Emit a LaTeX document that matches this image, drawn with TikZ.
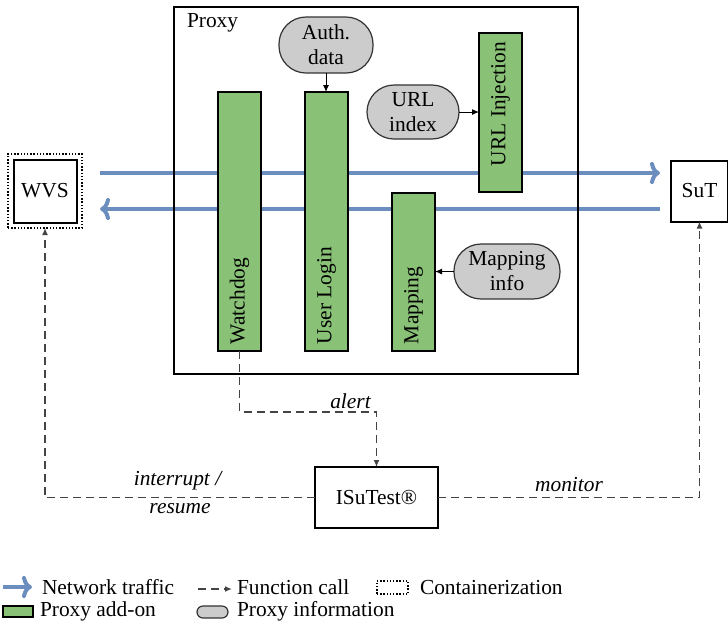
\documentclass[tikz,border=0pt]{standalone}
\usepackage{fontspec}
\setmainfont{Liberation Serif}
\usetikzlibrary{arrows.meta,calc,backgrounds}
\definecolor{netblue}{HTML}{6C8EBF}
\definecolor{addgreen}{HTML}{89C276}
\definecolor{infogray}{HTML}{CCCCCC}
\definecolor{fcgray}{HTML}{444444}
\newcommand{\dfont}{\fontsize{10.7}{12.5}\selectfont}
\begin{document}
\begin{tikzpicture}[x=0.5pt,y=-0.5pt,
  every node/.style={font=\dfont, inner sep=0pt, outer sep=0pt},
  box/.style={draw=black, line width=1pt, fill=white},
  addon/.style={draw=black, line width=1pt, fill=addgreen, minimum width=21.5pt},
  info/.style={draw=black!80, line width=0.6pt, fill=infogray, rounded corners=13.5pt, align=center},
  bartext/.style={rotate=90, anchor=west},
  net/.style={draw=netblue, line width=2pt, -{To[length=5pt,width=11pt]}},
  fcall/.style={draw=fcgray, line width=0.7pt, dash pattern=on 4pt off 2.5pt, -{Latex[length=3.5pt,width=3pt]}},
  small/.style={draw=black, line width=0.5pt, -{Latex[length=3.5pt,width=3pt]}},
  lbl/.style={font=\dfont\itshape},
  container/.style={draw=black, dash pattern=on 0.7pt off 0.9pt, line width=0.8pt},
]
\useasboundingbox (0,0) rectangle (728,623);

% proxy
\node[draw, line width=1pt, minimum width=202pt, minimum height=183.5pt] (proxy) at (376,190.5) {};
\node[anchor=west] (proxyl) at (187,23) {Proxy};

% add-ons
\node[addon, minimum height=129.5pt] (wd) at (239.5,221.5) {};
\node[addon, minimum height=129.5pt] (ul) at (326.5,221.5) {};
\node[addon, minimum height=79pt] (map) at (413.5,272) {};
\node[addon, minimum height=79.5pt] (uri) at (500.5,112.5) {};
\node[bartext] (wdt) at (239.5,344) {Watchdog};
\node[bartext] (ult) at (326.5,344) {User Login};
\node[bartext] (mapt) at (413.5,344) {Mapping};
\node[bartext] (urit) at (500.5,166) {URL Injection};

% information
\node[info, minimum width=47pt, minimum height=28pt] (auth) at (326,45) {Auth.\\data};
\node[info, minimum width=46pt, minimum height=27pt] (urlidx) at (413,112) {URL\\index};
\node[info, minimum width=53pt, minimum height=27.5pt] (mapinfo) at (507,271.5) {Mapping\\info};
\draw[small] (auth.south) -- (auth.south |- ul.north);
\draw[small] (urlidx.east) -- (urlidx.east -| uri.west);
\draw[small] (mapinfo.west) -- (mapinfo.west -| map.east);

% endpoints
\node[container, minimum size=37pt] (wvsc) at (45,191) {};
\node[box, minimum size=31.5pt] (wvs) at (45,191) {WVS};
\node[box, minimum width=28.5pt, minimum height=30.5pt] (sut) at (699.5,191) {SuT};
\node[box, minimum width=61.5pt, minimum height=30.5pt] (isu) at (376.5,497.5) {ISuTest®};

% network traffic
\begin{scope}[on background layer]
\draw[net, shorten <=9pt, shorten >=5.5pt] ([yshift=9pt]wvsc.east) -- ([yshift=9pt]sut.west);
\draw[net, shorten <=5.5pt, shorten >=9pt] ([yshift=-9pt]sut.west) -- ([yshift=-9pt]wvsc.east);
\end{scope}

% function calls
\coordinate (alerty) at (0,412);
\draw[fcall] (wd.south) -- (wd.south |- alerty) -| (isu.north);
\draw[fcall] (isu.west) -| (wvsc.south);
\draw[fcall] (isu.east) -| (sut.south);
\node[lbl] (alert) at (350.5,401) {alert};
\node[lbl] (intr) at (177.5,481) {interrupt /};
\node[lbl] (resume) at (180,509) {resume};
\node[lbl] (monitor) at (569,484.5) {monitor};

% legend
\coordinate (l1a) at (3,587);
\coordinate (l1b) at (32,587);
\draw[net] (l1a) -- (l1b);
\node[anchor=base west] (lnet) at (42,594) {Network traffic};
\coordinate (l2a) at (198,589);
\coordinate (l2b) at (232,589);
\draw[fcall] (l2a) -- (l2b);
\node[anchor=base west] (lfc) at (237,594) {Function call};
\node[container, minimum width=15.5pt, minimum height=6.5pt] (lcont) at (392.5,587.5) {};
\node[anchor=base west] (lcontt) at (420,594) {Containerization};
\node[draw, line width=0.8pt, fill=addgreen, minimum width=15pt, minimum height=5.5pt] (ladd) at (18,611.5) {};
\node[anchor=base west] (laddt) at (40,616) {Proxy add-on};
\node[draw=black!80, fill=infogray, line width=0.6pt, rounded corners=3pt, minimum width=15.5pt, minimum height=6pt] (linfo) at (212.5,612) {};
\node[anchor=base west] (linfot) at (237,616) {Proxy information};
\end{tikzpicture}
\end{document}
